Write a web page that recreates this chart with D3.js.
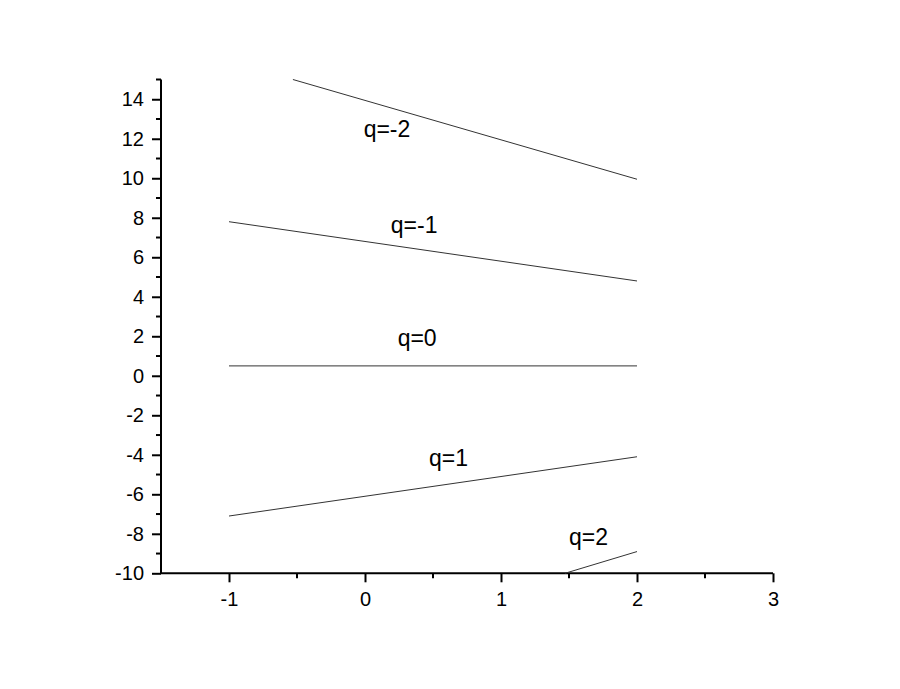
<!DOCTYPE html>
<html>
<head>
<meta charset="utf-8">
<script src="https://cdn.jsdelivr.net/npm/d3@7"></script>
<style>
  body { margin: 0; background: #fff; }
  #container { width: 900px; height: 689px; }
</style>
</head>
<body>
<div id="container"></div>
<script>
// data
const qValues = [-2, -1, 0, 1, 2];
const xStart = [-0.53, -1, -1, -1, 1.47];
const yStart = [15, 7.8, 0.5, -7.1, -10];
const xEnd = [2, 2, 2, 2, 2];
const yEnd = [9.95, 4.8, 0.5, -4.1, -8.9];
// label anchor in data units (left edge, baseline)
const labelX = [-0.01, 0.19, 0.24, 0.47, 1.5];
const labelY = [12.1, 7.25, 1.5, -4.55, -8.55];

const xMajor = [-1, 0, 1, 2, 3];
const xMinor = [-0.5, 0.5, 1.5, 2.5];
const yMajor = [-10, -8, -6, -4, -2, 0, 2, 4, 6, 8, 10, 12, 14];
const yMinor = [-9, -7, -5, -3, -1, 1, 3, 5, 7, 9, 11, 13, 15];

const width = 900;
const height = 689;
const marginTop = 79.5;
const marginRight = 127;
const marginBottom = 115.7;
const marginLeft = 161;
const font = "'Liberation Sans', Arial, sans-serif";

const svg = d3.select("#container")
  .append("svg")
  .attr("width", width)
  .attr("height", height)
  .attr("viewBox", [0, 0, width, height])
  .style("font-family", font);

const x = d3.scaleLinear()
  .domain([-1.5, 3])
  .range([marginLeft, width - marginRight]);

const y = d3.scaleLinear()
  .domain([-10, 15])
  .range([height - marginBottom, marginTop]);

// x axis: major ticks with labels, then minor ticks
const gx = svg.append("g")
  .attr("transform", `translate(0,${height - marginBottom})`);
gx.call(d3.axisBottom(x).tickValues(xMajor).tickSize(9).tickPadding(10).tickFormat(d => String(d)))
  .call(g => g.attr("font-size", 20).attr("font-family", font))
  .call(g => g.select(".domain").attr("stroke-width", 2).attr("d", `M${x(-1.5)},0H${x(3)}`))
  .call(g => g.selectAll(".tick line").attr("stroke-width", 2))
  .call(g => g.selectAll(".tick text").attr("fill", "#000"));
gx.append("g")
  .selectAll("line")
  .data(xMinor)
  .join("line")
  .attr("x1", d => x(d)).attr("x2", d => x(d))
  .attr("y1", 0).attr("y2", 5)
  .attr("stroke", "#000").attr("stroke-width", 2);

// y axis
const gy = svg.append("g")
  .attr("transform", `translate(${marginLeft},0)`);
gy.call(d3.axisLeft(y).tickValues(yMajor).tickSize(9).tickPadding(8).tickFormat(d => String(d)))
  .call(g => g.attr("font-size", 20).attr("font-family", font))
  .call(g => g.select(".domain").attr("stroke-width", 2).attr("d", `M0,${y(-10)}V${y(15)}`))
  .call(g => g.selectAll(".tick line").attr("stroke-width", 2))
  .call(g => g.selectAll(".tick text").attr("fill", "#000"));
gy.append("g")
  .selectAll("line")
  .data(yMinor)
  .join("line")
  .attr("x1", 0).attr("x2", -5)
  .attr("y1", d => y(d)).attr("y2", d => y(d))
  .attr("stroke", "#000").attr("stroke-width", 2);

// lines for each q
const line = d3.line().x(d => x(d[0])).y(d => y(d[1]));
svg.append("g")
  .attr("fill", "none")
  .attr("stroke", "#333")
  .attr("stroke-width", 1)
  .selectAll("path")
  .data(qValues.map((q, i) => [[xStart[i], yStart[i]], [xEnd[i], yEnd[i]]]))
  .join("path")
  .attr("d", line);

// labels
svg.append("g")
  .attr("font-size", 23)
  .attr("fill", "#000")
  .selectAll("text")
  .data(qValues)
  .join("text")
  .attr("x", (d, i) => x(labelX[i]))
  .attr("y", (d, i) => y(labelY[i]))
  .text(d => `q=${d}`);
</script>
</body>
</html>
